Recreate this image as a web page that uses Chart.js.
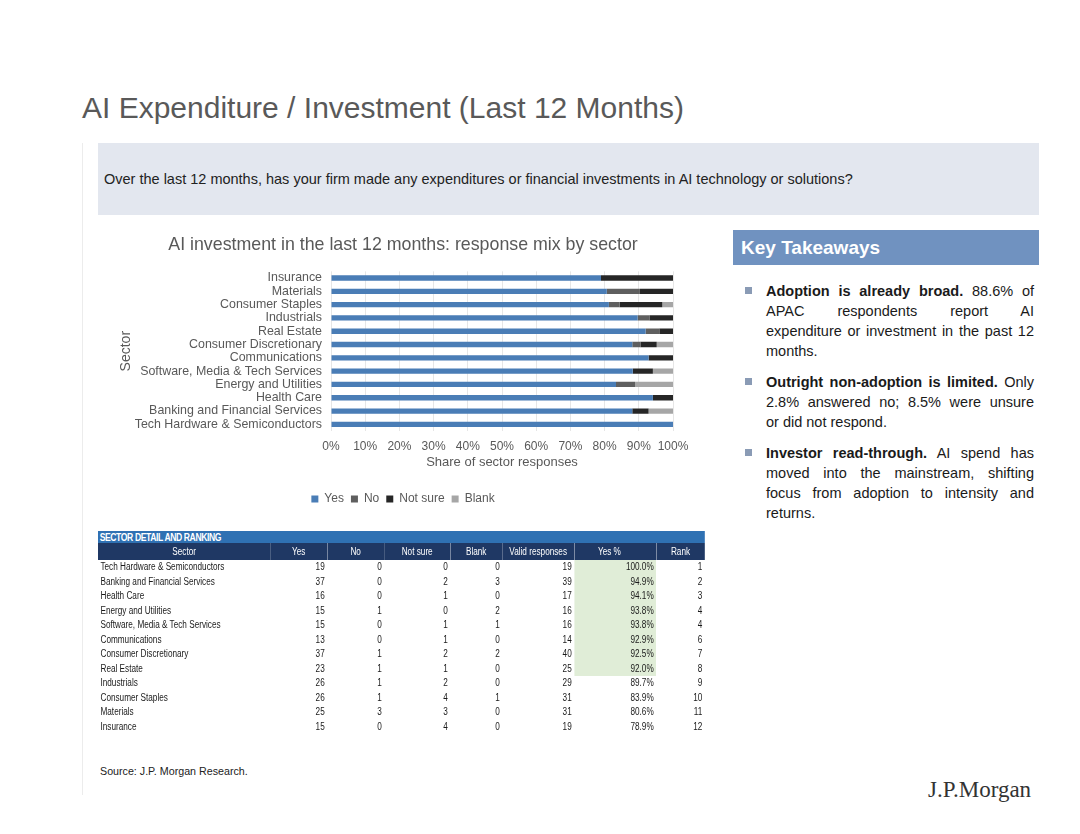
<!DOCTYPE html>
<html>
<head>
<meta charset="utf-8">
<script src="https://cdn.jsdelivr.net/npm/chart.js@4.4.1/dist/chart.umd.min.js"></script>
<style>
  body { margin: 0; background: #fff; font-family: "Liberation Sans", Arial, sans-serif; }
  #page { position: relative; width: 1080px; height: 834px; overflow: hidden; }
  .abs { position: absolute; }
  #titulo { left: 82px; top: 93px; font-size: 30px; line-height: 30px; color: #595959; white-space: nowrap; }
  #linea { left: 82px; top: 143px; width: 1px; height: 652px; background: #ececec; }
  #pregunta { left: 98px; top: 143px; width: 941px; height: 72px; background: #e3e7ef; }
  #pregunta span { position: absolute; left: 6px; top: 28px; font-size: 14.5px; line-height: 17px; color: #222; white-space: nowrap; }
  #grafica { left: 98px; top: 228px; }
  #cabecera { left: 733px; top: 230px; width: 306px; height: 35px; background: #7092c0; color: #fff;
              font-weight: bold; font-size: 19px; line-height: 35px; box-sizing: border-box; padding-left: 8px; }
  #claves { left: 766px; top: 281px; width: 268px; font-size: 14.5px; line-height: 20px; color: #1a1a1a; }
  #claves .punto { margin: 0 0 11px 0; position: relative; }
  #claves .punto::before { content: ""; position: absolute; left: -21px; top: 6px; width: 7px; height: 7px; background: #8a9bb5; }
  #claves .ln { white-space: nowrap; }
  #claves .j { text-align: justify; text-align-last: justify; }
  #tabla { left: 98px; top: 531px; transform: scaleX(0.82); transform-origin: 0 0; }
  #tabla table { border-collapse: collapse; table-layout: fixed; width: 740px; font-size: 10px; color: #1a1a1a; }
  #tabla td { padding: 0; white-space: nowrap; overflow: hidden; }
  #tabla tr.banda td { background: #2f71b3; color: #fff; font-weight: bold; font-size: 10.5px; height: 12px; line-height: 12px; letter-spacing: -0.5px; padding-left: 2px; }
  #tabla tr.cols td { background: #1f3864; color: #fff; height: 17px; line-height: 17px; text-align: center; }
  #tabla tr.fila td { height: 14.5px; line-height: 14.5px; text-align: right; padding-right: 3px; }
  #tabla tr.fila td.sector { text-align: left; padding-left: 3px; padding-right: 0; }
  #tabla td.verde { background: #e0edd7; }
  #fuente { left: 100px; top: 765px; font-size: 10.7px; color: #222; }
  #logo { left: 928px; top: 777px; font-family: "Liberation Serif", serif; font-size: 23px; color: #333; }
</style>
</head>
<body>
<div id="page">
  <div id="titulo" class="abs">AI Expenditure / Investment (Last 12 Months)</div>
  <div id="linea" class="abs"></div>
  <div id="pregunta" class="abs"><span>Over the last 12 months, has your firm made any expenditures or financial investments in AI technology or solutions?</span></div>
  <canvas id="grafica" class="abs" width="612" height="290"></canvas>
  <div id="cabecera" class="abs">Key Takeaways</div>
  <div id="claves" class="abs">
    <div class="punto">
      <div class="ln j"><b>Adoption is already broad.</b> 88.6% of</div>
      <div class="ln j">APAC respondents report AI</div>
      <div class="ln j">expenditure or investment in the past 12</div>
      <div class="ln">months.</div>
    </div>
    <div class="punto">
      <div class="ln j"><b>Outright non-adoption is limited.</b> Only</div>
      <div class="ln j">2.8% answered no; 8.5% were unsure</div>
      <div class="ln">or did not respond.</div>
    </div>
    <div class="punto">
      <div class="ln j"><b>Investor read-through.</b> AI spend has</div>
      <div class="ln j">moved into the mainstream, shifting</div>
      <div class="ln j">focus from adoption to intensity and</div>
      <div class="ln">returns.</div>
    </div>
  </div>
  <div id="tabla" class="abs"></div>
  <div id="fuente" class="abs">Source: J.P. Morgan Research.</div>
  <div id="logo" class="abs">J.P.Morgan</div>
</div>
<script>
// Datos por sector (orden de la tabla, de mayor a menor % de "Yes")
const sectores = ['Tech Hardware & Semiconductors', 'Banking and Financial Services', 'Health Care',
  'Energy and Utilities', 'Software, Media & Tech Services', 'Communications', 'Consumer Discretionary',
  'Real Estate', 'Industrials', 'Consumer Staples', 'Materials', 'Insurance'];
const respSi = [19, 37, 16, 15, 15, 13, 37, 23, 26, 26, 25, 15];
const respNo = [0, 0, 0, 1, 0, 0, 1, 1, 1, 1, 3, 0];
const respNoSeguro = [0, 2, 1, 0, 1, 1, 2, 1, 2, 4, 3, 4];
const respBlanco = [0, 3, 0, 2, 1, 0, 2, 0, 0, 1, 0, 0];
const ranking = [1, 2, 3, 4, 4, 6, 7, 8, 9, 10, 11, 12];

const series = ['Yes', 'No', 'Not sure', 'Blank'];
const colores = ['#4a7db6', '#5f5f5f', '#262626', '#a6a6a6'];
const columnas = ['Sector', 'Yes', 'No', 'Not sure', 'Blank', 'Valid responses', 'Yes %', 'Rank'];

// Totales y porcentajes
let totales = sectores.map((_, i) => respSi[i] + respNo[i] + respNoSeguro[i] + respBlanco[i]);
let validas = sectores.map((_, i) => respSi[i] + respNo[i] + respNoSeguro[i]);
let cuentas = [respSi, respNo, respNoSeguro, respBlanco];

let datasets = series.map((nombre, s) => ({
  label: nombre,
  data: cuentas[s].map((v, i) => v / totales[i] * 100),
  backgroundColor: colores[s],
  borderWidth: 0,
  barPercentage: 0.4,
  categoryPercentage: 1
}));

const gris = '#595959';
new Chart(document.getElementById('grafica'), {
  type: 'bar',
  data: { labels: sectores, datasets: datasets },
  options: {
    responsive: false,
    animation: false,
    indexAxis: 'y',
    layout: { padding: { left: 35, right: 37, top: 0, bottom: 3 } },
    scales: {
      x: {
        stacked: true, min: 0, max: 100,
        grid: { color: '#e6e6e6', drawTicks: false },
        border: { display: false },
        ticks: { stepSize: 10, padding: 8, autoSkip: false, maxRotation: 0, minRotation: 0,
                 color: gris, font: { size: 12 }, callback: v => v + '%' },
        title: { display: true, text: 'Share of sector responses', color: gris, font: { size: 13 }, padding: { top: -7, bottom: 16 } }
      },
      y: {
        stacked: true, reverse: true,
        grid: { display: false },
        border: { display: false },
        ticks: { autoSkip: false, padding: 1, color: gris, font: { size: 12.4 } },
        title: { display: true, text: 'Sector', color: gris, font: { size: 14 }, padding: { top: -15, bottom: 4 } },
        afterFit: function (escala) { escala.width = 198; }
      }
    },
    plugins: {
      title: { display: true, text: 'AI investment in the last 12 months: response mix by sector', color: gris,
               font: { size: 17.8, weight: 'normal' }, padding: { top: 6, bottom: 16 } },
      legend: { position: 'bottom', labels: { boxWidth: 7, boxHeight: 7, padding: 7, color: gris, font: { size: 12 } } },
      tooltip: { enabled: false }
    }
  }
});

// Tabla de detalle
let html = '<table><colgroup>';
[210, 69.5, 69.5, 80.5, 63.4, 87.8, 100, 59.3].forEach(w => { html += '<col style="width:' + w + 'px">'; });
html += '</colgroup><tr class="banda"><td colspan="8">SECTOR DETAIL AND RANKING</td></tr><tr class="cols">';
columnas.forEach(c => { html += '<td' + (c === 'Yes %' ? ' style="padding-right:14px"' : '') + '>' + c + '</td>'; });
html += '</tr>';
sectores.forEach((nombre, i) => {
  let pct = respSi[i] / validas[i] * 100;
  html += '<tr class="fila"><td class="sector">' + nombre.replace('&', '&amp;') + '</td>' +
    '<td>' + respSi[i] + '</td><td>' + respNo[i] + '</td><td>' + respNoSeguro[i] + '</td><td>' + respBlanco[i] + '</td>' +
    '<td>' + validas[i] + '</td><td' + (pct >= 90 ? ' class="verde"' : '') + '>' + pct.toFixed(1) + '%</td>' +
    '<td>' + ranking[i] + '</td></tr>';
});
html += '</table>';
document.getElementById('tabla').innerHTML = html;
</script>
</body>
</html>
